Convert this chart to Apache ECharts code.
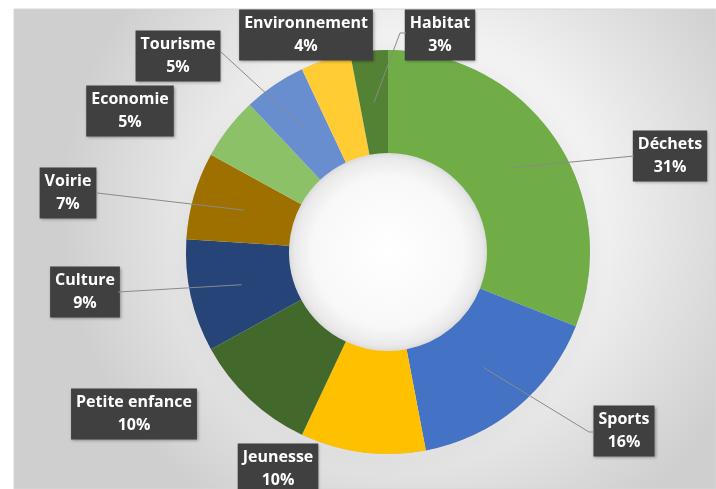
<!DOCTYPE html>
<html>
<head>
<meta charset="utf-8">
<script src="https://cdn.jsdelivr.net/npm/echarts@6/dist/echarts.min.js"></script>
<style>
  html, body { margin: 0; padding: 0; background: #ffffff; }
  #chart { width: 716px; height: 489px; }
</style>
</head>
<body>
<div id="chart"></div>
<script>
// ---- data ----
const categories = ['Déchets', 'Sports', 'Jeunesse', 'Petite enfance', 'Culture', 'Voirie', 'Economie', 'Tourisme', 'Environnement', 'Habitat'];
const values = [31, 16, 10, 10, 9, 7, 5, 5, 4, 3];
const colors = ['#70AD47', '#4472C4', '#FFC000', '#43682B', '#264478', '#9E7000', '#8CC168', '#698ED0', '#FFCD33', '#548235'];

// ---- layout (label box centres and leader-line ends, in px) ----
const CX = 388, CY = 252, R0 = 99, R1 = 202, LINE_R = 150;
const labelCentres = [
  [670, 156], [624, 431], [278, 469], [134, 414], [85, 292],
  [68, 193], [130, 111], [178, 56], [306, 35], [440, 35]
];
const lineEnds = [
  [[634, 156]],
  [[589, 432], [594, 432]],
  null,
  null,
  [[118, 292]],
  [[97, 193]],
  null,
  [[221, 52]],
  null,
  [[400, 33], [406, 33]]
];

const chart = echarts.init(document.getElementById('chart'), null, { renderer: 'canvas' });

const total = values.reduce((a, b) => a + b, 0);
const leaderLines = [];
let cum = 0;
values.forEach((v, i) => {
  const theta = (cum + v / 2) / total * 2 * Math.PI;
  cum += v;
  if (!lineEnds[i]) return;
  const start = [CX + LINE_R * Math.sin(theta), CY - LINE_R * Math.cos(theta)];
  leaderLines.push({
    type: 'polyline', z: 100, silent: true,
    shape: { points: [start].concat(lineEnds[i]) },
    style: { stroke: '#8a8a8a', lineWidth: 1, fill: null }
  });
});

const data = categories.map((name, i) => ({
  name: name,
  value: values[i],
  itemStyle: { color: colors[i] }
}));

chart.setOption({
  animation: false,
  graphic: [
    {
      type: 'rect', z: -10, silent: true,
      shape: { x: 14, y: 9, width: 702, height: 480 },
      style: {
        fill: {
          type: 'radial', x: 0.58, y: 0.42, r: 0.75,
          colorStops: [
            { offset: 0, color: '#ffffff' },
            { offset: 0.5, color: '#f1f1f1' },
            { offset: 1, color: '#cfcfcf' }
          ]
        },
        stroke: '#d6d6d6', lineWidth: 1
      }
    },
    {
      type: 'circle', z: -5, silent: true,
      shape: { cx: CX, cy: CY, r: R0 + 2 },
      style: {
        fill: {
          type: 'radial', x: 0.5, y: 0.5, r: 0.5,
          colorStops: [
            { offset: 0, color: '#ffffff' },
            { offset: 0.75, color: '#f8f8f8' },
            { offset: 0.93, color: '#e9e9e9' },
            { offset: 1, color: '#d6d6d6' }
          ]
        }
      }
    }
  ].concat(leaderLines),
  series: [
    {
      type: 'pie',
      silent: true,
      z: 1,
      center: [CX, CY],
      radius: [R1 - 1, R1],
      startAngle: 90,
      label: { show: false },
      labelLine: { show: false },
      itemStyle: {
        color: '#bbbbbb',
        shadowBlur: 14,
        shadowColor: 'rgba(0,0,0,0.35)',
        shadowOffsetX: 2,
        shadowOffsetY: 3
      },
      data: [{ value: 1 }]
    },
    {
      type: 'pie',
      z: 2,
      center: [CX, CY],
      radius: [R0, R1],
      startAngle: 90,
      clockwise: true,
      avoidLabelOverlap: false,
      data: data,
      itemStyle: { borderWidth: 0 },
      label: {
        show: true,
        formatter: p => p.name + '\n' + p.value + '%',
        color: '#ffffff',
        fontFamily: 'Open Sans',
        fontWeight: 'bold',
        fontSize: 16,
        lineHeight: 23,
        align: 'center',
        backgroundColor: '#404040',
        padding: [3, 5, 2, 5],
        shadowBlur: 3,
        shadowColor: 'rgba(0,0,0,0.35)',
        shadowOffsetX: 1,
        shadowOffsetY: 1
      },
      labelLine: { show: false },
      labelLayout: function (params) {
        const c = labelCentres[params.dataIndex];
        return { x: c[0], y: c[1], align: 'center', verticalAlign: 'middle' };
      }
    }
  ]
});
</script>
</body>
</html>
